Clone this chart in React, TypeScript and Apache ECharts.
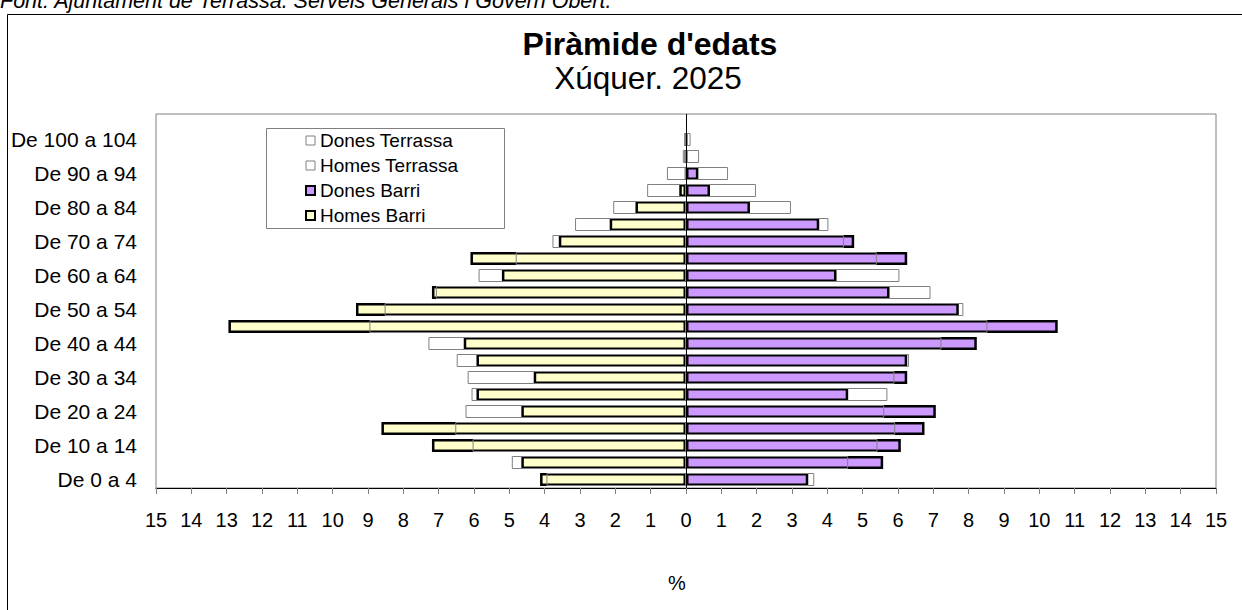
import React, { useEffect, useRef } from "react";
import * as echarts from "echarts";

const categories = [
  "De 0 a 4", "De 5 a 9", "De 10 a 14", "De 15 a 19", "De 20 a 24", "De 25 a 29",
  "De 30 a 34", "De 35 a 39", "De 40 a 44", "De 45 a 49", "De 50 a 54", "De 55 a 59",
  "De 60 a 64", "De 65 a 69", "De 70 a 74", "De 75 a 79", "De 80 a 84", "De 85 a 89",
  "De 90 a 94", "De 95 a 99", "De 100 a 104",
];

// percentages (Homes drawn to the left)
const homesBarri = [4.13, 4.66, 7.19, 8.62, 4.66, 5.93, 4.31, 5.93, 6.29, 12.95, 9.34, 7.19, 5.21, 6.1, 3.6, 2.16, 1.43, 0.19, 0, 0, 0];
const homesTerrassa = [3.95, 4.93, 6.04, 6.53, 6.24, 6.07, 6.18, 6.49, 7.29, 8.96, 8.53, 7.08, 5.87, 4.82, 3.78, 3.14, 2.06, 1.1, 0.54, 0.09, 0.03];
const donesBarri = [3.46, 5.58, 6.08, 6.75, 7.07, 4.59, 6.26, 6.26, 8.23, 10.52, 7.72, 5.76, 4.26, 6.26, 4.76, 3.77, 1.81, 0.68, 0.35, 0, 0];
const donesTerrassa = [3.63, 4.59, 5.42, 5.92, 5.61, 5.7, 5.9, 6.31, 7.23, 8.53, 7.85, 6.92, 6.04, 5.4, 4.47, 4.03, 2.97, 1.98, 1.19, 0.37, 0.13];

const titleText = "Piràmide d'edats";
const subtitleText = "Xúquer. 2025";
const sourceText = "Font: Ajuntament de Terrassa. Serveis Generals i Govern Obert.";
const axisMin = -15;
const axisMax = 15;

const FONT = "'Liberation Sans', Arial, Helvetica, sans-serif";
const YELLOW = "#FFFFCC";
const PURPLE = "#CC99FF";
const GREY = "#808080";

export default function App() {
  const ref = useRef<HTMLDivElement>(null);

  useEffect(() => {
    if (!ref.current) return;
    const chart = echarts.init(ref.current, null, { renderer: "svg" });
    const barW = 13;
    const barriStyle = (fill: string) => ({ color: fill, borderColor: "#000", borderWidth: 2.5 });
    const terrStyle = { color: "rgba(255,255,255,0)", borderColor: GREY, borderWidth: 1 };

    chart.setOption({
      animation: false,
      backgroundColor: "#fff",
      textStyle: { fontFamily: FONT },
      grid: {
        left: 156, right: 26, top: 114, bottom: 122,
        show: true, borderColor: GREY, borderWidth: 1, backgroundColor: "transparent",
      },
      legend: {
        orient: "vertical",
        left: 305,
        top: 131,
        padding: 0,
        itemWidth: 9,
        itemHeight: 9,
        itemGap: 6,
        selectedMode: false,
        textStyle: { fontSize: 19, fontFamily: FONT, color: "#000", lineHeight: 19 },
        data: [
          { name: "Dones Terrassa", icon: "rect", itemStyle: { color: "#fff", borderColor: GREY, borderWidth: 1 } },
          { name: "Homes Terrassa", icon: "rect", itemStyle: { color: "#fff", borderColor: GREY, borderWidth: 1 } },
          { name: "Dones Barri", icon: "rect", itemStyle: { color: PURPLE, borderColor: "#000", borderWidth: 2 } },
          { name: "Homes Barri", icon: "rect", itemStyle: { color: YELLOW, borderColor: "#000", borderWidth: 2 } },
        ],
      },
      xAxis: {
        type: "value",
        min: axisMin,
        max: axisMax,
        interval: 1,
        name: "%",
        nameLocation: "middle",
        nameGap: 85,
        nameTextStyle: { fontSize: 20, color: "#000", fontFamily: FONT, padding: [0, 18, 0, 0] },
        axisLine: { show: true, onZero: false, lineStyle: { color: "#000", width: 1 } },
        axisTick: { show: true, length: 6, lineStyle: { color: GREY } },
        axisLabel: {
          fontSize: 20, color: "#000", fontFamily: FONT, margin: 22,
          formatter: (v: number) => String(Math.abs(v)),
        },
        splitLine: { show: false },
      },
      yAxis: {
        type: "category",
        data: categories,
        max: categories.length,
        axisLine: { show: false },
        axisTick: { show: false },
        axisLabel: { interval: 1, fontSize: 21, color: "#000", fontFamily: FONT, margin: 19 },
        splitLine: { show: false },
      },
      series: [
        {
          name: "Homes Barri", type: "bar", barWidth: barW, barGap: "-100%", z: 2,
          itemStyle: barriStyle(YELLOW), data: homesBarri.map((v) => -v),
        },
        {
          name: "Dones Barri", type: "bar", barWidth: barW, barGap: "-100%", z: 2,
          itemStyle: barriStyle(PURPLE), data: donesBarri,
        },
        {
          name: "Homes Terrassa", type: "bar", barWidth: barW, barGap: "-100%", z: 3,
          itemStyle: terrStyle, data: homesTerrassa.map((v) => -v),
        },
        {
          name: "Dones Terrassa", type: "bar", barWidth: barW, barGap: "-100%", z: 3,
          itemStyle: terrStyle, data: donesTerrassa,
          markLine: {
            silent: true,
            symbol: ["none", "none"],
            label: { show: false },
            lineStyle: { color: "#000", width: 1, type: "solid" },
            data: [{ xAxis: 0 }],
          },
        },
      ],
      graphic: [
        {
          type: "rect", z: -1,
          shape: { x: 7.5, y: 14.5, width: 1400, height: 800 },
          style: { fill: "none", stroke: "#000", lineWidth: 1 },
        },
        {
          type: "text", x: 0, y: 1,
          style: { text: sourceText, fontSize: 21.5, fontStyle: "italic", fontFamily: FONT, fill: "#000", align: "left", verticalAlign: "middle" },
        },
        {
          type: "text", x: 650, y: 44,
          style: { text: titleText, fontSize: 32, fontWeight: "bold", fontFamily: FONT, fill: "#000", align: "center", verticalAlign: "middle" },
        },
        {
          type: "text", x: 648, y: 78,
          style: { text: subtitleText, fontSize: 31.5, fontFamily: FONT, fill: "#000", align: "center", verticalAlign: "middle" },
        },
        {
          type: "rect", z: 0,
          shape: { x: 266.5, y: 128.5, width: 238, height: 100 },
          style: { fill: "#fff", stroke: GREY, lineWidth: 1 },
        },
      ],
    });
    return () => chart.dispose();
  }, []);

  return (
    <div
      ref={ref}
      style={{ position: "fixed", left: 0, top: 0, width: 1242, height: 610, background: "#fff" }}
    />
  );
}
